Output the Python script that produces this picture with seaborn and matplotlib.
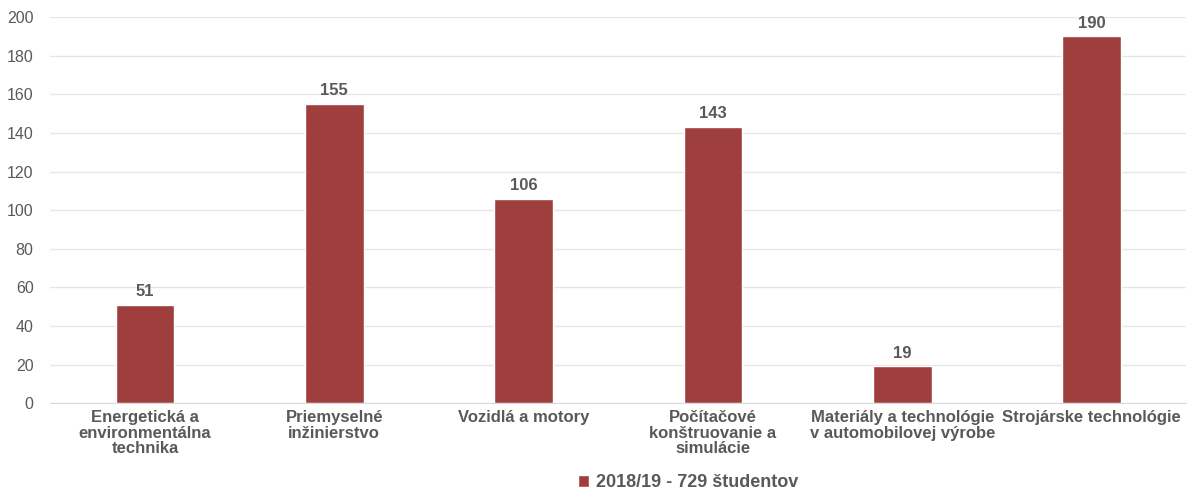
import matplotlib
matplotlib.use("Agg")
import matplotlib.pyplot as plt
import pandas as pd
import seaborn as sns

# Udaje z grafu
kategorie = ["Energetická a\nenvironmentálna\ntechnika",
             "Priemyselné\ninžinierstvo",
             "Vozidlá a motory",
             "Počítačové\nkonštruovanie a\nsimulácie",
             "Materiály a technológie\nv automobilovej výrobe",
             "Strojárske technológie"]
studenti = [51, 155, 106, 143, 19, 190]
seria = "2018/19 - 729 študentov"

df = pd.DataFrame({"odbor": kategorie, "pocet": studenti})

sns.set_style("white")
plt.rcParams['font.family'] = ['Liberation Sans', 'DejaVu Sans']

farba = "#9E3F3D"
siva = "#595959"

fig = plt.figure(figsize=(11.96, 4.91), dpi=100)
ax = fig.add_axes([0.042, 0.179, 0.95, 0.786])

sns.barplot(data=df, x="odbor", y="pocet", color=farba, width=0.31,
            saturation=1, ax=ax, label=seria)

# popisky nad stlpcami
for i, v in enumerate(studenti):
    ax.text(i, v + 3, str(v), ha="center", va="bottom", fontsize=12,
            fontweight="bold", color=siva)

ax.set_ylim(0, 200)
ax.set_xlim(-0.5, 5.5)
ax.set_yticks(range(0, 201, 20))
ax.yaxis.grid(True, color="#e6e6e6", linewidth=1)
ax.set_axisbelow(True)
ax.set_xlabel("")
ax.set_ylabel("")

for s in ["top", "right", "left"]:
    ax.spines[s].set_visible(False)
ax.spines["bottom"].set_color("#d9d9d9")

ax.tick_params(axis="y", length=0, labelsize=11.5, labelcolor=siva, pad=12)
ax.tick_params(axis="x", which="major", length=0, labelsize=12,
               labelcolor=siva, pad=5)
ax.set_xticks([i - 0.5 for i in range(7)], minor=True)
ax.tick_params(axis="x", which="minor", length=5, color="#d9d9d9")
for t in ax.get_xticklabels():
    t.set_fontweight("bold")
    t.set_linespacing(1.05)

if ax.get_legend():
    ax.get_legend().remove()
h, l = ax.get_legend_handles_labels()
fig.legend(h[:1], l[:1], loc="center", bbox_to_anchor=(0.575, 0.017),
           frameon=False, handlelength=0.65, handleheight=0.65,
           handletextpad=0.35, prop={"weight": "bold", "size": 13},
           labelcolor=siva)

fig.savefig("out.png", dpi=100)
